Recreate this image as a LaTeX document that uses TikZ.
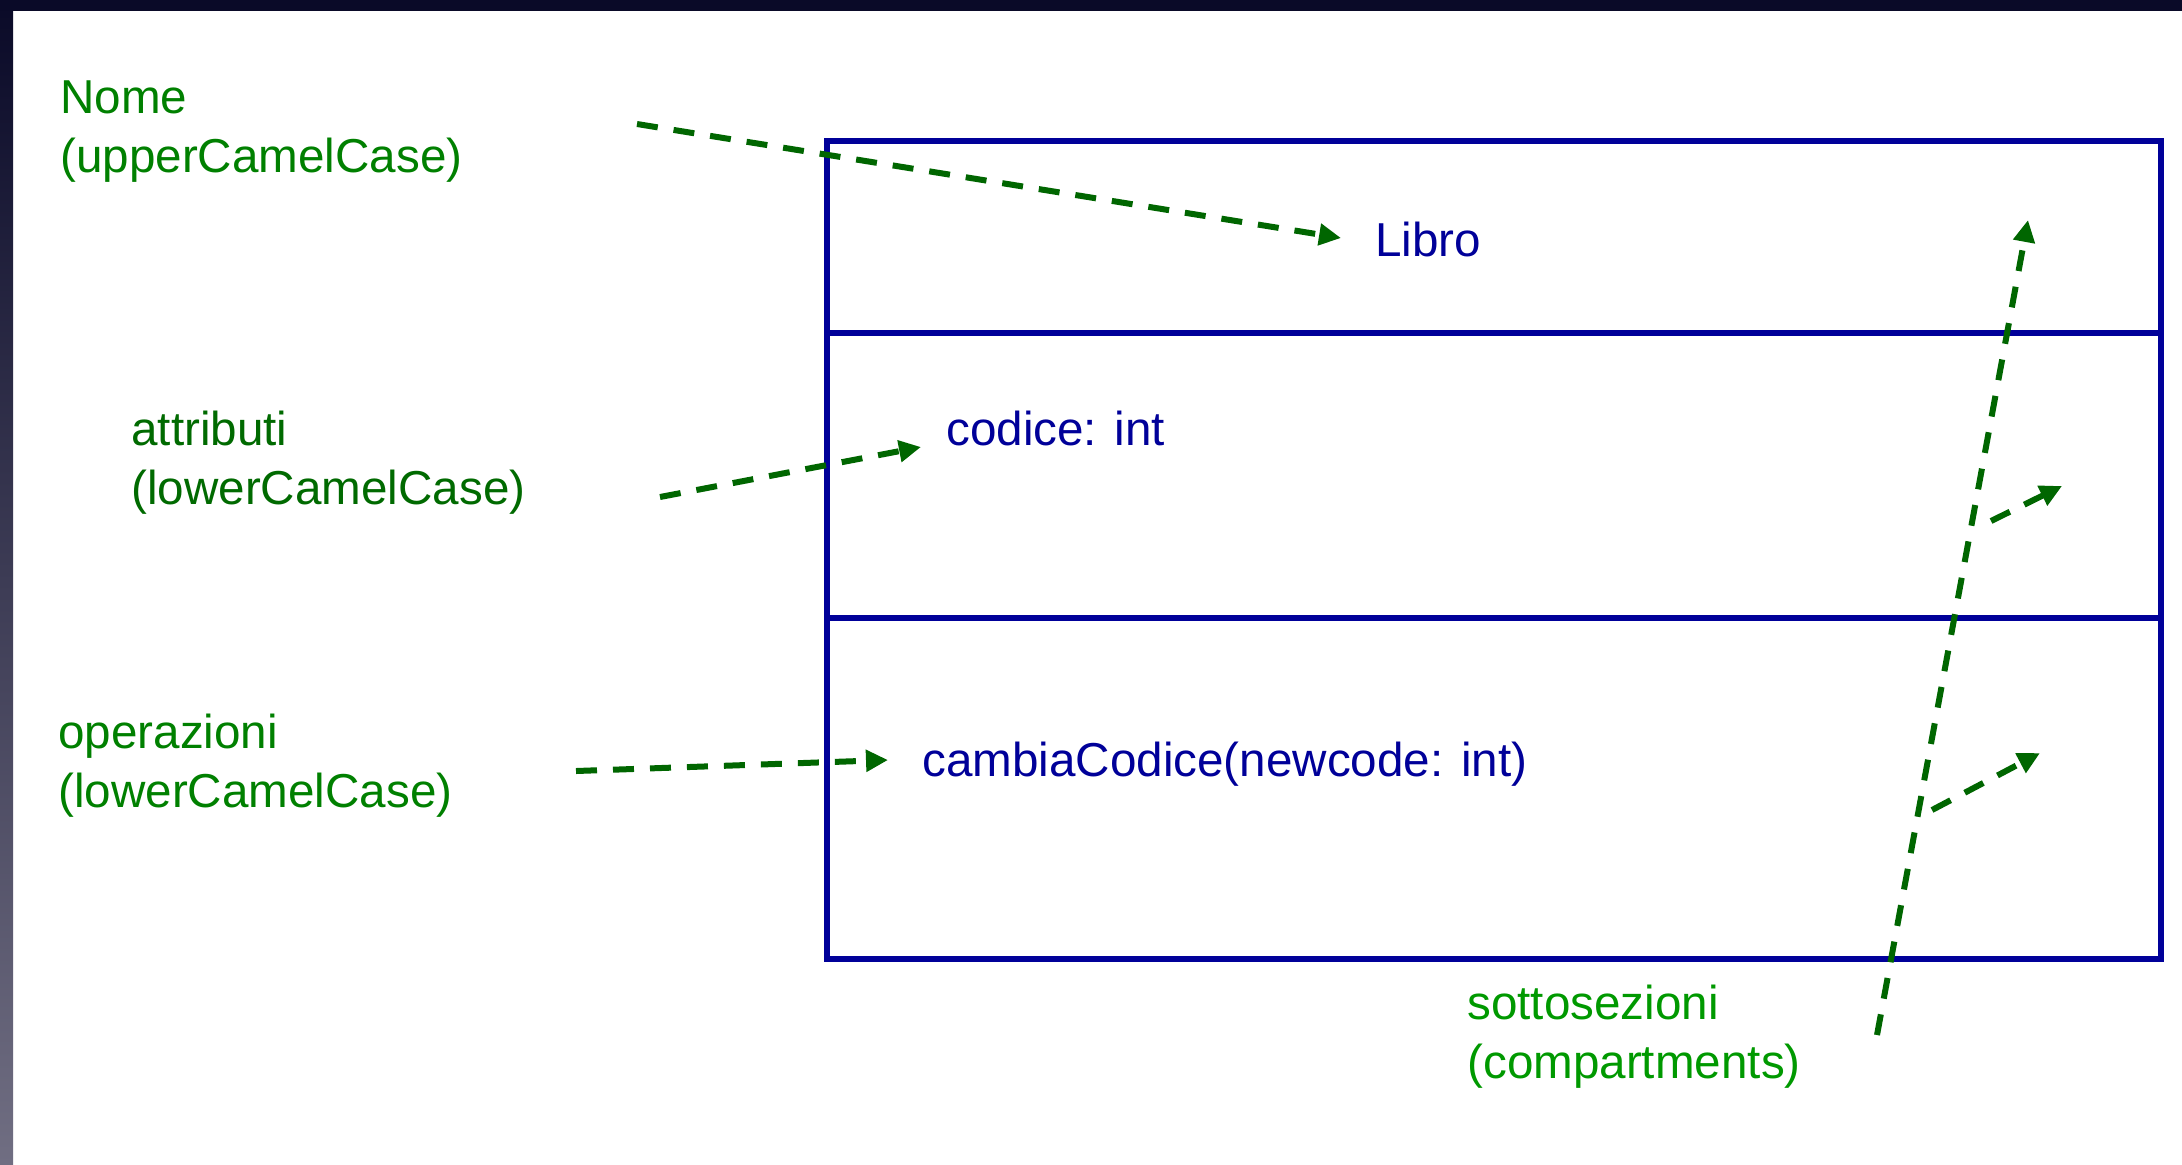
\documentclass[tikz,border=0pt]{standalone}
\usepackage{fontspec}
\setmainfont{Liberation Sans}
\usetikzlibrary{arrows.meta}
\definecolor{uml}{RGB}{0,0,153}
\definecolor{greenA}{RGB}{0,128,0}
\definecolor{greenB}{RGB}{0,106,0}
\definecolor{greenC}{RGB}{0,153,0}
\definecolor{linegreen}{RGB}{0,102,0}
\definecolor{frametop}{RGB}{10,10,40}
\definecolor{framebot}{RGB}{112,110,130}
\newcommand{\twolines}[2]{\begin{tabular}[t]{@{}l@{}}#1\\#2\end{tabular}}
\begin{document}
\begin{tikzpicture}[x=0.5pt,y=-0.5pt,
  lbl/.style={anchor=base west, inner sep=0pt, font=\fontsize{23.8}{29.5}\selectfont},
  cls/.style={anchor=base west, inner sep=0pt, text=uml, font=\fontsize{23.8}{29.5}\selectfont},
  pointer/.style={draw=linegreen, line width=3pt, dash pattern=on 10.5pt off 8pt,
    -{Triangle[length=11pt,width=10.5pt,fill=linegreen]}},
  compartment/.style={draw=uml, line width=2.8pt, minimum width=667pt, inner sep=0pt}]

\useasboundingbox (0,0) rectangle (2182,1164);
\fill[white] (0,0) rectangle (2182,1164);
\shade[top color=frametop, bottom color=framebot] (0,0) rectangle (13,1164);
\fill[frametop] (0,0) rectangle (2182,11);

% class box compartments
\node[compartment, minimum height=96pt]    (nameC) at (1494,237) {};
\node[compartment, minimum height=142.5pt] (attrC) at (1494,475.5) {};
\node[compartment, minimum height=170.5pt] (opC)   at (1494,788.5) {};

% class texts
\node[cls] (libro) at (1375,256) {Libro};
\node[cls] (codice) at (946,445) {codice: int};
\node[cls] (cambia) at (922,776) {cambiaCodice(newcode: int)};

% annotation labels
\node[lbl, text=greenA] (nome) at (60,113) {\twolines{Nome}{(upperCamelCase)}};
\node[lbl, text=greenB] (attr) at (131,445) {\twolines{attributi}{(lowerCamelCase)}};
\node[lbl, text=greenA] (oper) at (58,748) {\twolines{operazioni}{(lowerCamelCase)}};
\node[lbl, text=greenC] (sotto) at (1467,1019) {\twolines{sottosezioni}{(compartments)}};

% arrow end points
\coordinate (nomeS) at (637,124);   \coordinate (nomeE) at (1341,238);
\coordinate (attrS) at (660,497);   \coordinate (attrE) at (921,447);
\coordinate (operS) at (576,771);   \coordinate (operE) at (888,760);
\coordinate (sottoS) at (1877,1035); \coordinate (sottoE) at (2028,220);
\coordinate (br1S) at (1991,521);   \coordinate (br1E) at (2062,486);
\coordinate (br2S) at (1932,810);   \coordinate (br2E) at (2040,753);

\draw[pointer] (nomeS) -- (nomeE);
\draw[pointer] (attrS) -- (attrE);
\draw[pointer] (operS) -- (operE);
\draw[pointer] (sottoS) -- (sottoE);
\draw[pointer] (br1S) -- (br1E);
\draw[pointer] (br2S) -- (br2E);
\end{tikzpicture}
\end{document}
